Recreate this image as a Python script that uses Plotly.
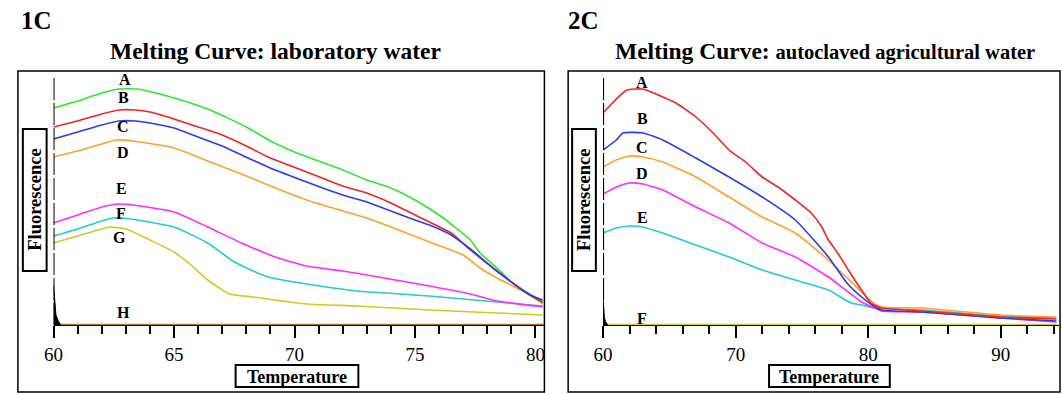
import plotly.graph_objects as go

W, H = 1062, 394

# ---------------- Panel 1C : laboratory water ----------------
L_A_t = [60, 61, 62, 62.7, 63.5, 65, 66.5, 68, 69, 70, 71, 72, 73, 74, 75, 76, 76.7, 77.3, 77.7, 78.5, 79, 79.7, 80.3]
L_A_v = [217, 224, 232, 236, 236, 227, 215, 198, 184, 173, 164, 155, 145, 137, 125, 110, 97, 85, 72, 55, 43, 32, 22]
L_B_t = [60, 61, 62, 62.7, 63.4, 64, 65, 66, 67, 68, 68.9, 70.5, 72, 73, 74, 75, 75.6, 76.5, 77.3, 78.4, 79.7, 80.3]
L_B_v = [198, 204, 211, 215, 215, 213, 206, 198, 190, 179, 168, 153, 139, 132, 122, 110, 103, 92, 75, 54, 31, 23]
L_C_t = [60, 61, 62, 62.7, 63.4, 64, 65, 66, 67, 67.8, 68.9, 70.5, 72, 73, 74, 75, 75.6, 76.5, 77.3, 78.4, 79.7, 80.3]
L_C_v = [186, 193, 200, 204, 204, 202, 197, 188, 179, 170, 158, 143, 130, 123, 114, 105, 100, 90, 76, 54, 31, 25]
L_D_t = [60, 61, 62, 62.6, 63.3, 65, 66.5, 67.8, 68.9, 70.5, 72, 73, 74, 75.6, 77, 77.7, 78.4, 79.7, 80.3]
L_D_v = [168, 174, 181, 185, 184, 177, 163, 151, 140, 125, 114, 107, 98, 83, 70, 57, 47, 31, 21]
L_E_t = [60, 61, 62, 62.7, 63.3, 65, 66.4, 67.8, 69.2, 70.5, 72, 73, 75.6, 77.3, 78.4, 80.3]
L_E_v = [102, 110, 118, 121, 120, 113, 98, 82, 68, 59, 54, 50, 39, 31, 24, 18]
L_F_t = [60, 61, 62, 62.5, 63.2, 65, 66.4, 67.5, 68.9, 70.5, 72.6, 75.6, 78.4, 80.3]
L_F_v = [89, 96, 104, 107, 106, 98, 82, 63, 48, 41, 34, 29, 23, 19]
L_G_t = [60, 61, 62, 62.3, 63, 64, 65, 65.7, 66.4, 67.3, 68.3, 70.5, 72.6, 75.6, 78.4, 80.3]
L_G_v = [82, 89, 96, 98, 96, 85, 73, 60, 45, 31, 28, 21, 19, 15, 12, 10]
L_H_t = [60, 80.35]
L_H_v = [0, 0]
L_spike_t = [60, 60.05, 60.1, 60.2, 60.3]
L_spike_v = [40, 22, 10, 4, 0]

# ---------------- Panel 2C : autoclaved agricultural water ----------------
R_A_t = [60, 61, 61.8, 63, 63.8, 64.5, 65.5, 67, 68.3, 69.5, 70.75, 72, 73.2, 74.5, 75.7, 76.5, 77, 77.7,
         78.5, 79.5, 80.2, 81, 84, 90, 94.2]
R_A_v = [212, 226, 235, 236, 232, 228, 222, 208, 192, 175, 163, 148, 138, 125, 112, 98, 85, 72,
         55, 35, 22, 17, 14, 8, 6]
R_B_t = [60, 61, 61.5, 63, 64.5, 67, 69.5, 72, 74.5, 77, 78.4, 79.5, 80.3, 81, 84, 90, 94.2]
R_B_v = [175, 185, 192, 192, 185, 167, 148, 128, 105, 68, 42, 28, 20, 15, 13, 7, 4]
R_C_t = [60, 61, 62, 63, 64.5, 67, 69.5, 72, 74.5, 77, 79.5, 80.5, 81, 84, 90, 94.2]
R_C_v = [158, 165, 169, 168, 163, 148, 128, 108, 92, 65, 33, 21, 18, 17, 10, 8]
R_D_t = [60, 61, 62, 63, 64.5, 67, 69.5, 72, 74.5, 77, 79.5, 80.5, 81, 84, 90, 94.2]
R_D_v = [131, 138, 142, 141, 135, 118, 102, 82, 68, 48, 23, 17, 14, 13, 7, 3]
R_E_t = [60, 61, 62, 63, 64.5, 67, 69.5, 72, 74.5, 77, 78.7, 79.5, 80.5, 84, 90, 94.2]
R_E_v = [92, 97, 99, 98, 92, 80, 68, 55, 45, 35, 22, 20, 17, 15, 9, 7]
R_F_t = [60, 94.3]
R_F_v = [0, 0]
R_spike_t = [60, 60.05, 60.1, 60.2, 60.35]
R_spike_v = [25, 14, 7, 3, 0]

left_labels = ["A", "B", "C", "D", "E", "F", "G", "H"]
left_label_t = [62.96, 62.9, 62.9, 62.87, 62.83, 62.8, 62.75, 62.9]
left_label_v = [245, 227, 198, 173, 137, 112, 88, 13]
right_labels = ["A", "B", "C", "D", "E", "F"]
right_label_t = [62.96, 62.96, 62.96, 62.96, 62.96, 62.96]
right_label_v = [242, 206, 178, 152, 108, 7]

GREEN, RED, BLUE, ORANGE = "#2ee82e", "#f02424", "#2a3cf0", "#ffa02a"
MAGENTA, CYAN, OLIVE = "#ff2cff", "#22cccc", "#cccc22"
FONT = "Liberation Serif"

fig = go.Figure()

def add(t, v, color, xa, ya, width=1.6, smooth=True):
    line = dict(color=color, width=width)
    if smooth:
        line.update(shape="spline", smoothing=0.5)
    fig.add_trace(go.Scatter(x=t, y=v, mode="lines", xaxis=xa, yaxis=ya,
                             line=line, hoverinfo="skip"))

def spike(t, v, xa, ya):
    fig.add_trace(go.Scatter(x=t, y=v, mode="lines", xaxis=xa, yaxis=ya, fill="tozeroy",
                             fillcolor="black", line=dict(color="black", width=1), hoverinfo="skip"))

add(L_H_t, L_H_v, "#b8741a", "x", "y", 2.5, smooth=False)
add(L_G_t, L_G_v, OLIVE, "x", "y")
add(L_F_t, L_F_v, CYAN, "x", "y")
add(L_E_t, L_E_v, MAGENTA, "x", "y")
add(L_D_t, L_D_v, ORANGE, "x", "y")
add(L_A_t, L_A_v, GREEN, "x", "y")
add(L_B_t, L_B_v, RED, "x", "y")
add(L_C_t, L_C_v, BLUE, "x", "y")
spike(L_spike_t, L_spike_v, "x", "y")

add(R_F_t, R_F_v, "#d2d200", "x2", "y2", 2.5, smooth=False)
add(R_E_t, R_E_v, CYAN, "x2", "y2")
add(R_D_t, R_D_v, MAGENTA, "x2", "y2")
add(R_C_t, R_C_v, ORANGE, "x2", "y2")
add(R_B_t, R_B_v, BLUE, "x2", "y2")
add(R_A_t, R_A_v, RED, "x2", "y2")
spike(R_spike_t, R_spike_v, "x2", "y2")

def px(x):
    return x / W

def py(y):
    return 1 - y / H

ydom = [py(325), py(75)]
xcommon = dict(showgrid=False, zeroline=False, showline=True, linecolor="black", linewidth=1,
               ticks="outside", ticklen=12, tickwidth=1.5, tickcolor="black",
               tickfont=dict(family=FONT, size=19, color="black"), fixedrange=True)
ycommon = dict(showgrid=False, zeroline=False, showline=False, showticklabels=False,
               ticks="", range=[0, 250], domain=ydom, fixedrange=True)

fig.update_layout(
    width=W, height=H, margin=dict(l=0, r=0, t=0, b=0),
    paper_bgcolor="white", plot_bgcolor="white", showlegend=False,
    xaxis=dict(domain=[px(44), px(539.5)], range=[60, 80.35], tick0=60, dtick=5,
               minor=dict(dtick=1, ticks="outside", ticklen=8, tickwidth=1.5, tickcolor="black"),
               anchor="y", **xcommon),
    yaxis=dict(anchor="x", **ycommon),
    xaxis2=dict(domain=[px(599.3), px(1060)], range=[60, 94.4], tick0=60, dtick=10,
                minor=dict(dtick=2, ticks="outside", ticklen=8, tickwidth=1.5, tickcolor="black"),
                anchor="y2", **xcommon),
    yaxis2=dict(anchor="x2", **ycommon),
)

shapes = []
# outer panel frames
shapes.append(dict(type="rect", xref="paper", yref="paper", x0=px(8), x1=px(540), y0=py(392), y1=py(71),
                   line=dict(color="black", width=1.5)))
shapes.append(dict(type="rect", xref="paper", yref="paper", x0=px(564), x1=px(1061), y0=py(392), y1=py(71),
                   line=dict(color="black", width=1.5)))
# dashed y axis lines
shapes.append(dict(type="line", xref="x", yref="y", x0=60, x1=60, y0=0, y1=248,
                   line=dict(color="black", width=2, dash="22px,3px")))
shapes.append(dict(type="line", xref="x2", yref="y2", x0=60, x1=60, y0=0, y1=248,
                   line=dict(color="black", width=2, dash="22px,3px")))
# label boxes
for (x0, x1, y0, y1) in [(13, 37, 129, 271), (568, 592, 129, 271), (228, 352, 365, 387), (767, 889, 365, 387)]:
    shapes.append(dict(type="rect", xref="paper", yref="paper", x0=px(x0), x1=px(x1), y0=py(y1), y1=py(y0),
                       line=dict(color="black", width=2), fillcolor="white", layer="above"))
fig.update_layout(shapes=shapes)

ann = []
def text(x, y, s, size, angle=0, xanchor="center"):
    ann.append(dict(xref="paper", yref="paper", x=px(x), y=py(y), text=s, showarrow=False,
                    xanchor=xanchor, yanchor="middle", textangle=angle,
                    font=dict(family=FONT, size=size, color="black")))

text(9, 21, "<b>1C</b>", 25, xanchor="left")
text(562, 21, "<b>2C</b>", 25, xanchor="left")
text(268, 51, "<b>Melting Curve: laboratory water</b>", 23.5)
text(824, 51, "<b>Melting Curve: </b><b><span style='font-size:20.5px'>autoclaved agricultural water</span></b>", 23.5)
text(25, 200, "<b>Fluorescence</b>", 18.5, angle=-90)
text(580, 200, "<b>Fluorescence</b>", 18.5, angle=-90)
text(290, 377, "<b>Temperature</b>", 18)
text(828, 377, "<b>Temperature</b>", 18)

for lab, t, v in zip(left_labels, left_label_t, left_label_v):
    ann.append(dict(xref="x", yref="y", x=t, y=v, text="<b>%s</b>" % lab, showarrow=False,
                    font=dict(family=FONT, size=16, color="black")))
for lab, t, v in zip(right_labels, right_label_t, right_label_v):
    ann.append(dict(xref="x2", yref="y2", x=t, y=v, text="<b>%s</b>" % lab, showarrow=False,
                    font=dict(family=FONT, size=16, color="black")))
fig.update_layout(annotations=ann)

fig.write_html("out.html")
